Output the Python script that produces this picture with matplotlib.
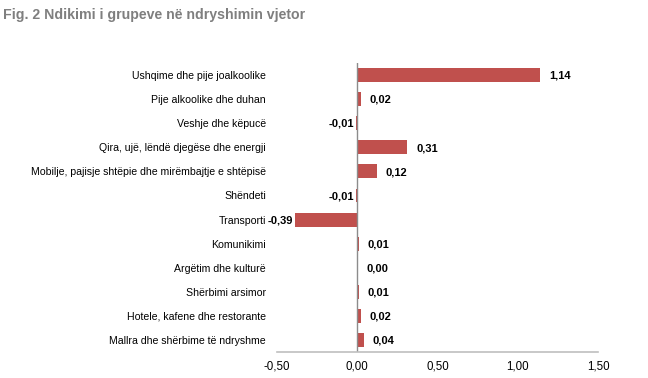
import numpy as np
import matplotlib
matplotlib.use('Agg')
from matplotlib import pyplot as plt

categories = ['Ushqime dhe pije joalkoolike', 'Pije alkoolike dhe duhan', 'Veshje dhe këpucë',
              'Qira, ujë, lëndë djegëse dhe energji', 'Mobilje, pajisje shtëpie dhe mirëmbajtje e shtëpisë',
              'Shëndeti', 'Transporti', 'Komunikimi', 'Argëtim dhe kulturë', 'Shërbimi arsimor',
              'Hotele, kafene dhe restorante', 'Mallra dhe shërbime të ndryshme']
values = [1.14, 0.02, -0.01, 0.31, 0.12, -0.01, -0.39, 0.01, 0.00, 0.01, 0.02, 0.04]
xticks = [-0.5, 0.0, 0.5, 1.0, 1.5]

plt.rcParams['font.family'] = ['Liberation Sans', 'DejaVu Sans']

fig = plt.figure(figsize=(6.48, 3.78), dpi=100)
ax = fig.add_axes([0.4275, 0.069, 0.4955, 0.764])

pos = np.arange(len(categories))
ax.barh(pos, values, height=0.58, color='#c0504d')

for p, v in zip(pos, values):
    txt = ('%.2f' % v).replace('.', ',')
    if v >= 0:
        ax.annotate(txt, (max(v, 0), p), xytext=(6.5, -0.5), textcoords='offset points',
                    ha='left', va='center', fontsize=8, fontweight='bold')
    else:
        ax.annotate(txt, (v, p), xytext=(-1, -0.5), textcoords='offset points',
                    ha='right', va='center', fontsize=8, fontweight='bold')

ax.set_xlim(-0.5, 1.5)
ax.set_ylim(len(categories) - 0.5, -0.5)
ax.set_xticks(xticks)
ax.set_xticklabels([('%.2f' % t).replace('.', ',') for t in xticks], fontsize=8.3)
ax.set_yticks(pos)
ax.set_yticklabels(categories, fontsize=7.6)
ax.tick_params(axis='y', length=0, pad=8)
ax.tick_params(axis='x', length=0, pad=6)

for s in ['top', 'right', 'left']:
    ax.spines[s].set_visible(False)
ax.spines['bottom'].set_color('#bfbfbf')
ax.spines['bottom'].set_linewidth(1.2)
ax.axvline(0, color='#8c8c8c', lw=1)

fig.text(0.005, 0.96, 'Fig. 2 Ndikimi i grupeve në ndryshimin vjetor', fontsize=10.2,
         fontweight='bold', color='#7f7f7f', ha='left', va='center',
         family=['Liberation Sans Narrow', 'Liberation Sans', 'DejaVu Sans'])

fig.savefig('out.png', dpi=100)
